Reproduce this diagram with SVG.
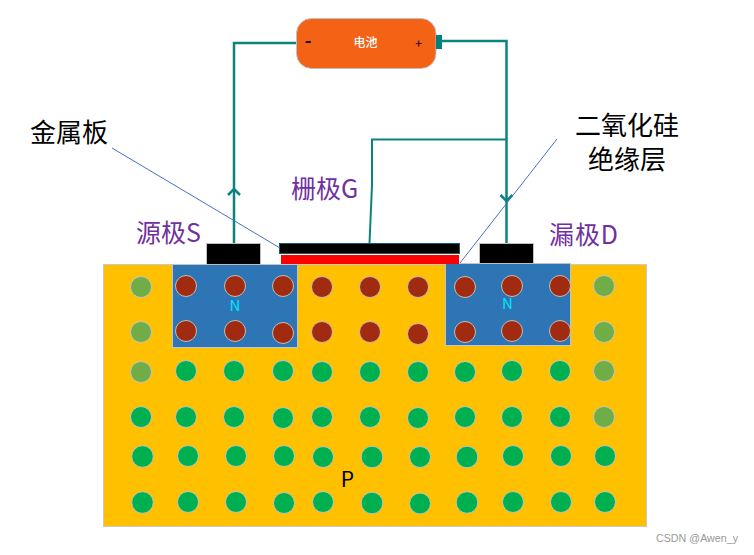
<svg xmlns="http://www.w3.org/2000/svg" width="754" height="555" viewBox="0 0 754 555">
<style>
text{font-family:"Noto Sans CJK SC","Noto Sans",sans-serif}
.e{fill:#a02b10;stroke:#c4bdb4;stroke-width:1}
.h{fill:#00b050;stroke:#bfc5bd;stroke-width:1}
.l{fill:#70ad47;stroke:#c3c6bd;stroke-width:1}
.w{fill:none;stroke:#0b8480;stroke-width:2.5}
.b{fill:none;stroke:#4472c4;stroke-width:1}
.p{fill:#7030a0;font-size:25px}
.k{fill:#000;font-size:26px}
.m{fill:#000;stroke:#bfbfbf;stroke-width:1}
.n{fill:#2e75b6;stroke:#bfc4cc;stroke-width:1}
.c{fill:#00e5ff;font-size:15px;text-anchor:middle}
</style>
<g id="substrate"><rect x="103.5" y="264.5" width="543" height="262" fill="#ffc000" stroke="#c9c9c9"/><text x="347.500" y="487" font-size="21" text-anchor="middle" fill="#000">P</text></g>
<g id="source-region"><rect class="n" x="172.500" y="264.500" width="125" height="83"/><text class="c" x="235" y="311">N</text></g>
<g id="drain-region"><rect class="n" x="445.500" y="263.500" width="125" height="82"/><text class="c" x="507.500" y="309">N</text></g>
<g id="carriers">
<circle class="l" cx="141" cy="287" r="10.500"/><circle class="e" cx="186" cy="286" r="10.500"/><circle class="e" cx="235" cy="286" r="10.500"/><circle class="e" cx="283" cy="286" r="10.500"/><circle class="e" cx="322" cy="287" r="10.500"/><circle class="e" cx="370" cy="287" r="10.500"/><circle class="e" cx="418" cy="287" r="10.500"/><circle class="e" cx="465" cy="287" r="10.500"/><circle class="e" cx="512" cy="286" r="10.500"/><circle class="e" cx="560" cy="286" r="10.500"/><circle class="l" cx="604" cy="286" r="10.500"/>
<circle class="l" cx="141" cy="332" r="10.500"/><circle class="e" cx="186" cy="331" r="10.500"/><circle class="e" cx="235" cy="331" r="10.500"/><circle class="e" cx="283" cy="333" r="10.500"/><circle class="e" cx="322" cy="332" r="10.500"/><circle class="e" cx="370" cy="332" r="10.500"/><circle class="e" cx="418" cy="334" r="10.500"/><circle class="e" cx="465" cy="332" r="10.500"/><circle class="e" cx="512" cy="331" r="10.500"/><circle class="e" cx="560" cy="331" r="10.500"/><circle class="l" cx="604" cy="332" r="10.500"/>
<circle class="l" cx="141" cy="372" r="10.500"/><circle class="h" cx="186" cy="371" r="10.500"/><circle class="h" cx="234" cy="371" r="10.500"/><circle class="h" cx="283" cy="371" r="10.500"/><circle class="h" cx="322" cy="372" r="10.500"/><circle class="h" cx="370" cy="372" r="10.500"/><circle class="h" cx="418" cy="372" r="10.500"/><circle class="h" cx="465" cy="372" r="10.500"/><circle class="h" cx="512" cy="371" r="10.500"/><circle class="h" cx="560" cy="371" r="10.500"/><circle class="l" cx="604" cy="371" r="10.500"/>
<circle class="h" cx="141" cy="417" r="10.500"/><circle class="h" cx="186" cy="417" r="10.500"/><circle class="h" cx="234" cy="417" r="10.500"/><circle class="h" cx="283" cy="418" r="10.500"/><circle class="h" cx="322" cy="417" r="10.500"/><circle class="h" cx="370" cy="417" r="10.500"/><circle class="h" cx="418" cy="418" r="10.500"/><circle class="h" cx="465" cy="417" r="10.500"/><circle class="h" cx="512" cy="417" r="10.500"/><circle class="h" cx="560" cy="417" r="10.500"/><circle class="l" cx="604" cy="417" r="10.500"/>
<circle class="h" cx="142.500" cy="456.500" r="10.800"/><circle class="h" cx="188" cy="456" r="10.500"/><circle class="h" cx="236" cy="456" r="10.500"/><circle class="h" cx="284" cy="456" r="10.500"/><circle class="h" cx="323" cy="457" r="10.500"/><circle class="h" cx="372" cy="457" r="10.800"/><circle class="h" cx="420" cy="457" r="10.500"/><circle class="h" cx="467" cy="457" r="10.800"/><circle class="h" cx="513" cy="456" r="10.500"/><circle class="h" cx="561" cy="456" r="10.500"/><circle class="h" cx="605" cy="456" r="10.500"/>
<circle class="h" cx="142.500" cy="502.500" r="10.800"/><circle class="h" cx="188" cy="502" r="10.500"/><circle class="h" cx="236" cy="502" r="10.500"/><circle class="h" cx="284" cy="503" r="10.500"/><circle class="h" cx="323" cy="502" r="10.500"/><circle class="h" cx="372" cy="503" r="10.800"/><circle class="h" cx="420" cy="503.500" r="10.500"/><circle class="h" cx="467" cy="502.500" r="10.800"/><circle class="h" cx="513" cy="502" r="10.500"/><circle class="h" cx="561" cy="502" r="10.500"/><circle class="h" cx="605" cy="502" r="10.500"/>
</g>
<g id="source-contact"><rect class="m" x="206.500" y="243.500" width="54" height="21"/></g>
<g id="drain-contact"><rect class="m" x="479.500" y="243.500" width="54" height="20"/></g>
<g id="gate-metal"><rect x="279.500" y="243.500" width="180" height="10" fill="#000" stroke="#0f5f5c"/></g>
<g id="gate-oxide"><rect x="281" y="255" width="178" height="9" fill="#f00"/></g>
<g id="connectors">
<path class="w" d="M297 43H234V243"/><path class="w" d="M228 195L234 189L240 195"/>
<path class="w" d="M442 41H506.500V243"/><path class="w" d="M500.500 195L506.500 201L512.500 195"/>
<path d="M506 139.500H372V185L369.500 243" fill="none" stroke="#0b8480" stroke-width="2"/>
<path class="b" d="M112 148L280 248"/><path class="b" d="M557 139L460 263"/>
</g>
<g id="battery"><rect x="296.500" y="18.500" width="139.500" height="50" rx="15" ry="15" fill="#f46216" stroke="#c0c0c8"/><rect x="436" y="35" width="6" height="14" fill="#008080"/><text x="365.500" y="47" font-size="12" fill="#fff" text-anchor="middle" font-weight="500">电池</text><text x="308" y="47" font-size="18" fill="#000" text-anchor="middle" font-weight="bold">-</text><text x="418.500" y="48" font-size="12" fill="#000" text-anchor="middle">+</text></g>
<g id="labels">
<text class="k" x="30" y="142">金属板</text>
<text class="k" x="575" y="135">二氧化硅</text>
<text class="k" x="588" y="169">绝缘层</text>
<text class="p" x="291" y="198">栅极G</text>
<text class="p" x="136" y="242">源极S</text>
<text class="p" x="549" y="244" textLength="69">漏极D</text>
<text x="738" y="542" font-size="10" fill="#999" text-anchor="end" textLength="82" lengthAdjust="spacingAndGlyphs" style="font-family:'Liberation Sans',sans-serif">CSDN @Awen_y</text>
</g>
</svg>
